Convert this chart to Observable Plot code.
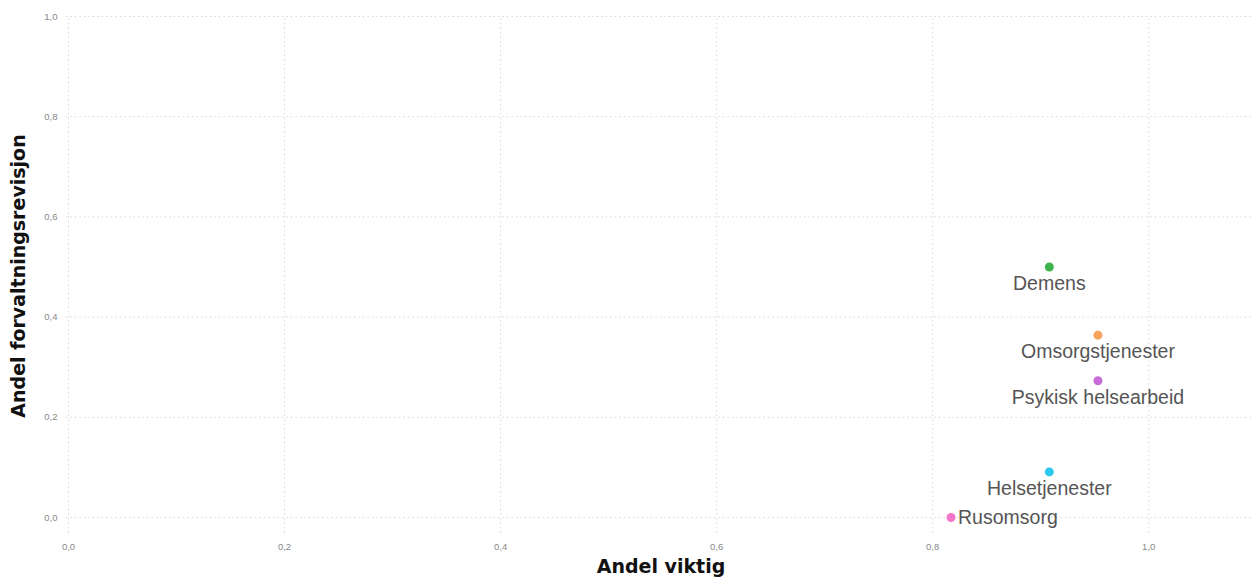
<!DOCTYPE html>
<html>
<head>
<meta charset="utf-8">
<script src="https://cdn.jsdelivr.net/npm/d3@7"></script>
<script src="https://cdn.jsdelivr.net/npm/@observablehq/plot@0.6"></script>
<style>
  html, body { margin: 0; padding: 0; background: #fff; }
  #chart svg { display: block; }
</style>
</head>
<body>
<div id="chart"></div>
<script>
const categories = ["Demens", "Omsorgstjenester", "Psykisk helsearbeid", "Helsetjenester", "Rusomsorg"];
const andelViktig = [0.908, 0.953, 0.953, 0.908, 0.817];
const andelForvaltningsrevisjon = [0.5, 0.364, 0.273, 0.091, 0.0];
const colors = ["#3cb44b", "#f7a35c", "#c76dd6", "#2ec8ef", "#f275c9"];
const labelBelow = [true, true, true, true, false];
const xTicks = [0, 0.2, 0.4, 0.6, 0.8, 1.0];
const yTicks = [0, 0.2, 0.4, 0.6, 0.8, 1.0];

const data = categories.map((c, i) => ({
  name: c, x: andelViktig[i], y: andelForvaltningsrevisjon[i], color: colors[i], below: labelBelow[i]
}));
const fmt = d => d3.format(".1f")(d).replace(".", ",");

const chart = Plot.plot({
  width: 1253,
  height: 580,
  marginLeft: 68,
  marginRight: 0,
  marginTop: 16,
  marginBottom: 63,
  style: { fontFamily: "'Liberation Sans', Arial, sans-serif", background: "#fff" },
  x: { domain: [0, 1.097], label: null },
  y: { domain: [0, 1], label: null },
  marks: [
    Plot.ruleX(xTicks, { x: d => d, y1: -0.032, y2: 1, stroke: "#d8d8d8", strokeWidth: 1, strokeDasharray: "1.5,3" }),
    Plot.ruleY(yTicks, { y: d => d, x1: -0.002, x2: 1.097, stroke: "#d8d8d8", strokeWidth: 1, strokeDasharray: "1.5,3" }),
    Plot.axisX(xTicks, { tickSize: 0, tickPadding: 26, tickFormat: fmt, fontSize: 9.5, fill: "#888", label: null }),
    Plot.axisY(yTicks, { tickSize: 0, tickPadding: 11, tickFormat: fmt, fontSize: 9.5, fill: "#888", label: null }),
    Plot.dot(data, { x: "x", y: "y", r: 4.5, fill: "color", stroke: "none" }),
    Plot.text(data.filter(d => d.below), { x: "x", y: "y", text: "name", dy: 17, fontSize: 19.5, fill: "#555", textAnchor: "middle" }),
    Plot.text(data.filter(d => !d.below), { x: "x", y: "y", text: "name", dx: 7, fontSize: 19.5, fill: "#555", textAnchor: "start" }),
    Plot.text(["Andel viktig"], { frameAnchor: "bottom", dy: 55, text: d => d, fontSize: 19, fontWeight: "bold", fontFamily: "'DejaVu Sans', sans-serif", fill: "#111" }),
    Plot.text(["Andel forvaltningsrevisjon"], { frameAnchor: "left", textAnchor: "middle", dx: -50, dy: 9, rotate: -90, text: d => d, fontSize: 19, fontWeight: "bold", fontFamily: "'DejaVu Sans', sans-serif", fill: "#111" })
  ]
});
document.getElementById("chart").appendChild(chart);
</script>
</body>
</html>
